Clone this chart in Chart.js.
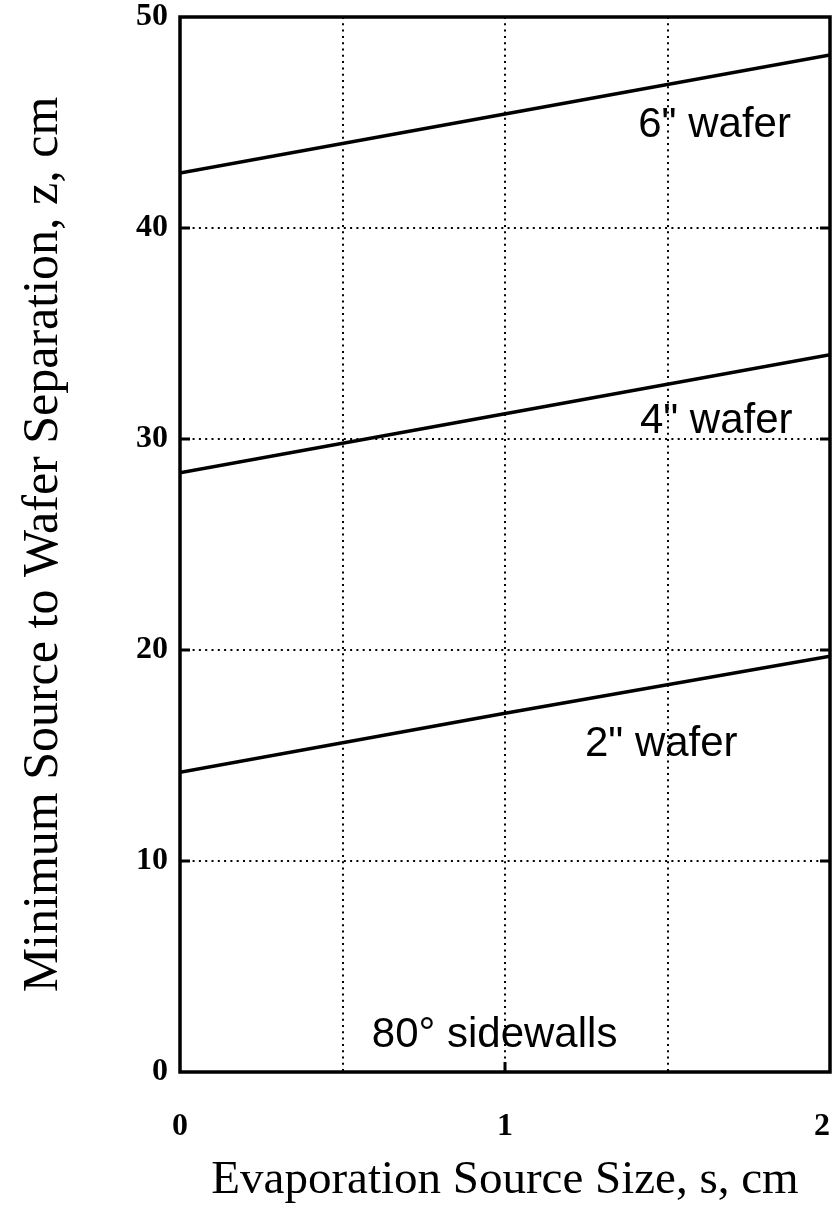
<!DOCTYPE html>
<html>
<head>
<meta charset="utf-8">
<script src="https://cdn.jsdelivr.net/npm/chart.js@4.4.1/dist/chart.umd.min.js"></script>
<style>
  html, body { margin: 0; padding: 0; background: #fff; }
  canvas { display: block; }
</style>
</head>
<body>
<canvas id="chart" width="834" height="1219"></canvas>
<script>
// values
const sourceSize = [0, 1, 2];
const wafer2 = [14.2, 17.0, 19.7];
const wafer4 = [28.4, 31.2, 34.0];
const wafer6 = [42.6, 45.4, 48.2];
const xTickLabels = [0, 1, 2];
const yTickLabels = [0, 10, 20, 30, 40, 50];
const noteTexts = ['6" wafer', '4" wafer', '2" wafer', '80\u00b0 sidewalls'];

const toPoints = (ys) => sourceSize.map((x, i) => ({ x: x, y: ys[i] }));

// frame, inward tick marks and the text notes inside the plot
const framePlugin = {
    id: "frame",
    afterDraw(chart, args, opts) {
        const { ctx, chartArea: a, scales } = chart;
        const x = scales.x, y = scales.y;
        ctx.save();
        ctx.strokeStyle = "#000";
        ctx.lineWidth = 3.5;
        ctx.strokeRect(a.left, a.top, a.right - a.left, a.bottom - a.top);

        ctx.lineWidth = 3;
        yTickLabels.slice(1, -1).forEach((v) => {
            const py = y.getPixelForValue(v);
            ctx.beginPath();
            ctx.moveTo(a.left, py);
            ctx.lineTo(a.left + 10, py);
            ctx.moveTo(a.right, py);
            ctx.lineTo(a.right - 10, py);
            ctx.stroke();
        });
        const px = x.getPixelForValue(1);
        ctx.beginPath();
        ctx.moveTo(px, a.bottom);
        ctx.lineTo(px, a.bottom - 10);
        ctx.stroke();

        ctx.fillStyle = "#000";
        ctx.font = "42px 'Liberation Sans', Arial, sans-serif";
        ctx.textBaseline = "alphabetic";
        opts.notes.forEach((n, i) => {
            ctx.textAlign = n.align;
            ctx.fillText(noteTexts[i], x.getPixelForValue(n.x), y.getPixelForValue(n.y));
        });
        ctx.restore();
    },
};

const lineStyle = {
    borderColor: "#000",
    borderWidth: 3.5,
    pointRadius: 0,
    fill: false,
    tension: 0,
};

new Chart(document.getElementById("chart"), {
    type: "line",
    data: {
        datasets: [
            { label: '2" wafer', data: toPoints(wafer2), ...lineStyle },
            { label: '4" wafer', data: toPoints(wafer4), ...lineStyle },
            { label: '6" wafer', data: toPoints(wafer6), ...lineStyle },
        ],
    },
    options: {
        responsive: false,
        animation: false,
        layout: { padding: { top: 17, right: 4, left: 0, bottom: 0 } },
        plugins: {
            legend: { display: false },
            tooltip: { enabled: false },
            frame: {
                notes: [
                    { x: 1.41, y: 44.3, align: "left" },
                    { x: 1.415, y: 30.3, align: "left" },
                    { x: 1.246, y: 15.0, align: "left" },
                    { x: 0.968, y: 1.18, align: "center" },
                ],
            },
        },
        scales: {
            x: {
                type: "linear",
                min: 0,
                max: 2,
                afterFit: (s) => {
                    s.height = 147;
                    s.paddingLeft = 0;
                    s.paddingRight = 0;
                },
                ticks: {
                    stepSize: 0.5,
                    padding: 36,
                    color: "#000",
                    font: { family: "'Liberation Serif', 'Times New Roman', serif", size: 32, weight: "bold" },
                    // last label sits at the canvas edge, pad it so it is not cut off
                    callback: (v) => {
                        if (!xTickLabels.includes(v)) return "";
                        return v === 2 ? "2\u2002" : String(v);
                    },
                },
                grid: { color: "#000", lineWidth: 2, drawTicks: false },
                border: { display: false, dash: [2, 4.3] },
                title: {
                    display: true,
                    text: "Evaporation Source Size, s, cm",
                    color: "#000",
                    font: { family: "'Liberation Serif', 'Times New Roman', serif", size: 47 },
                    padding: { top: 0, bottom: 10 },
                },
            },
            y: {
                min: 0,
                max: 50,
                afterFit: (s) => {
                    s.width = 180;
                    s.paddingTop = 0;
                    s.paddingBottom = 0;
                },
                ticks: {
                    stepSize: 10,
                    padding: 12,
                    color: "#000",
                    font: { family: "'Liberation Serif', 'Times New Roman', serif", size: 32, weight: "bold" },
                    callback: (v) => (yTickLabels.includes(v) ? String(v) : ""),
                },
                grid: { color: "#000", lineWidth: 2, drawTicks: false },
                border: { display: false, dash: [2, 4.3] },
                title: {
                    display: true,
                    text: "Minimum Source to Wafer Separation, z, cm",
                    color: "#000",
                    font: { family: "'Liberation Serif', 'Times New Roman', serif", size: 50 },
                    padding: { top: 14, bottom: 0 },
                },
            },
        },
    },
    plugins: [framePlugin],
});
</script>
</body>
</html>
